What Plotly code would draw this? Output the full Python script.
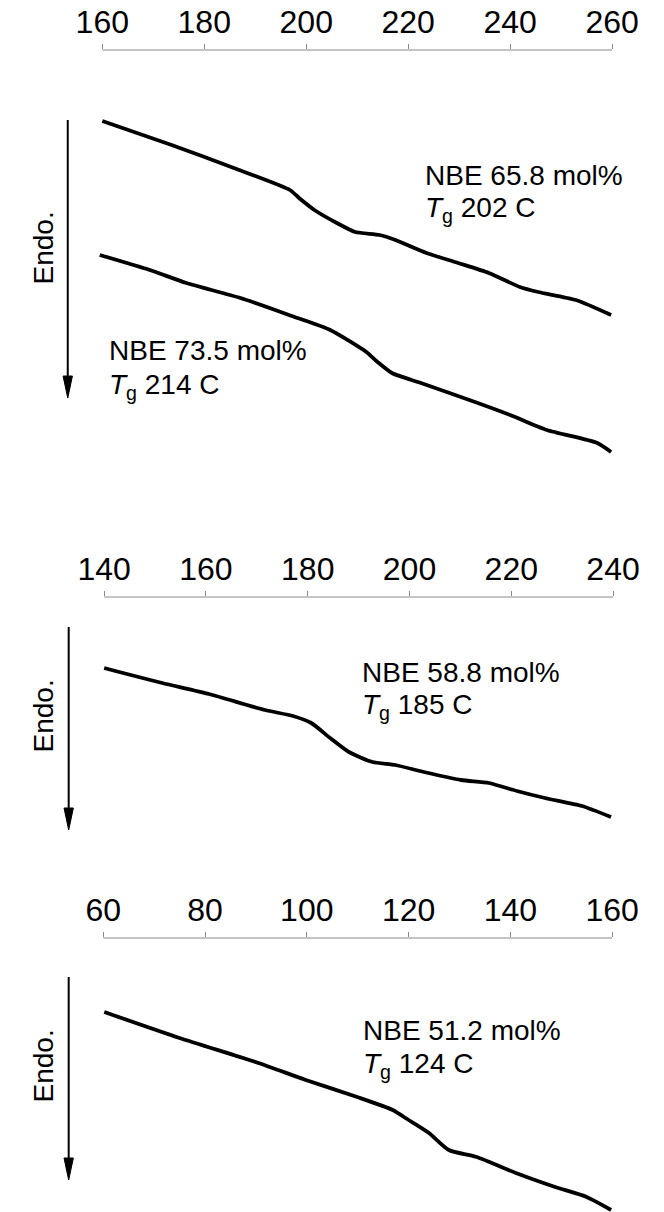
import plotly.graph_objects as go

# DSC traces (heat flow in arbitrary units, endotherm downward)
t_658 = [160.0, 173.6, 185.8, 196.8, 198.6, 201.6, 206.0, 209.6, 214.4, 217.5,
         223.6, 229.8, 235.8, 241.9, 245.5, 252.9, 259.8]
hf_658 = [-0.71, -0.95, -1.18, -1.40, -1.48, -1.60, -1.73, -1.82, -1.85, -1.90,
          -2.03, -2.13, -2.23, -2.37, -2.42, -2.50, -2.65]

t_735 = [159.5, 169.3, 176.5, 187.1, 197.7, 204.7, 211.8, 214.0, 216.8, 222.5,
         233.1, 240.0, 247.2, 257.1, 259.8]
hf_735 = [-2.05, -2.20, -2.33, -2.48, -2.67, -2.80, -3.02, -3.12, -3.23, -3.33,
          -3.52, -3.65, -3.80, -3.93, -4.02]

t_588 = [140.0, 142.2, 151.4, 160.6, 171.6, 177.1, 180.7, 184.4, 188.1, 192.7,
         197.2, 202.8, 210.1, 215.6, 221.1, 226.6, 233.9, 239.6]
hf_588 = [-0.71, -0.74, -0.86, -0.97, -1.13, -1.19, -1.26, -1.41, -1.55, -1.65,
          -1.68, -1.75, -1.83, -1.86, -1.94, -2.01, -2.09, -2.20]

t_512 = [60.2, 75.0, 90.5, 99.8, 109.9, 116.9, 120.0, 124.0, 127.9, 133.4,
         141.1, 148.8, 155.0, 159.8]
hf_512 = [-0.74, -1.00, -1.25, -1.42, -1.59, -1.72, -1.82, -1.95, -2.12, -2.19,
          -2.35, -2.49, -2.59, -2.72]

ticks_1 = [160, 180, 200, 220, 240, 260]
ticks_2 = [140, 160, 180, 200, 220, 240]
ticks_3 = [60, 80, 100, 120, 140, 160]

labels = [
    ("NBE 65.8 mol%", "<i>T</i><sub>g</sub> 202 C"),
    ("NBE 73.5 mol%", "<i>T</i><sub>g</sub> 214 C"),
    ("NBE 58.8 mol%", "<i>T</i><sub>g</sub> 185 C"),
    ("NBE 51.2 mol%", "<i>T</i><sub>g</sub> 124 C"),
]

W, H = 664, 1212
FONT = "Liberation Sans, Arial, sans-serif"


def px(x):
    return x / W


def py(y):
    return 1 - y / H


fig = go.Figure()

line_style = dict(color="black", width=3.8, shape="spline", smoothing=0.6)
fig.add_trace(go.Scatter(x=t_658, y=hf_658, mode="lines", line=line_style,
                         xaxis="x", yaxis="y", showlegend=False))
fig.add_trace(go.Scatter(x=t_735, y=hf_735, mode="lines", line=line_style,
                         xaxis="x", yaxis="y", showlegend=False))
fig.add_trace(go.Scatter(x=t_588, y=hf_588, mode="lines", line=line_style,
                         xaxis="x2", yaxis="y2", showlegend=False))
fig.add_trace(go.Scatter(x=t_512, y=hf_512, mode="lines", line=line_style,
                         xaxis="x3", yaxis="y3", showlegend=False))

# panel geometry in pixels: (left, right, top, bottom), x range, ticks
panels = [
    (80.54, 637.46, 50, 480, [159, 261], ticks_1),
    (82.55, 638.45, 597, 860, [139, 241], ticks_2),
    (81.55, 637.45, 938, 1212, [59, 161], ticks_3),
]

axis_color = "#8a8a8a"
layout = dict(
    width=W, height=H,
    margin=dict(l=0, r=0, t=0, b=0),
    paper_bgcolor="white", plot_bgcolor="white",
    font=dict(family=FONT, color="black"),
)
for i, (l, r, t, b, xr, tv) in enumerate(panels, start=1):
    sx = "" if i == 1 else str(i)
    layout["xaxis" + sx] = dict(
        domain=[px(l), px(r)], range=xr, side="top",
        anchor="y" + sx, showline=False, showgrid=False, zeroline=False,
        ticks="outside", ticklen=5, tickwidth=1, tickcolor=axis_color,
        tickvals=tv, ticktext=[str(v) for v in tv],
        tickfont=dict(size=32, family=FONT, color="black"),
        ticklabelstandoff=-2,
    )
    layout["yaxis" + sx] = dict(
        domain=[py(b), py(t)], range=[-(b - t) / 100, 0],
        anchor="x" + sx, visible=False, showgrid=False, zeroline=False,
    )
fig.update_layout(**layout)

# baseline of each temperature axis between first and last tick
for i, (l, r, t, b, xr, tv) in enumerate(panels, start=1):
    sx = "" if i == 1 else str(i)
    fig.add_shape(type="line", xref="x" + sx, yref="y" + sx + " domain",
                  x0=tv[0], x1=tv[-1], y0=1, y1=1,
                  line=dict(color=axis_color, width=1))

# endothermic direction arrows with "Endo." labels
arrows = [(49, 120, 398, 248), (50, 627, 830, 716), (50, 977, 1180, 1066)]
for ax_x, y_top, y_tip, y_text in arrows:
    head = 22
    half = 5
    fig.add_shape(type="line", xref="paper", yref="paper",
                  x0=px(ax_x), x1=px(ax_x), y0=py(y_top), y1=py(y_tip - head + 2),
                  line=dict(color="black", width=2))
    fig.add_shape(type="path", xref="paper", yref="paper",
                  path=(f"M {px(ax_x - half)} {py(y_tip - head)} "
                        f"L {px(ax_x + half)} {py(y_tip - head)} "
                        f"L {px(ax_x)} {py(y_tip)} Z"),
                  fillcolor="black", line=dict(color="black", width=1))
    fig.add_annotation(xref="paper", yref="paper", x=px(23), y=py(y_text),
                       text="Endo.", textangle=-90, showarrow=False,
                       xanchor="center", yanchor="middle",
                       font=dict(size=28, family=FONT, color="black"))

# sample labels
label_pos = [(429, 176, 210), (91, 350, 386), (362, 672, 706), (363, 1030, 1065)]
for (l1, l2), (lx, y1, y2) in zip(labels, label_pos):
    fig.add_annotation(xref="paper", yref="paper", x=px(lx), y=py(y1),
                       text=l1, showarrow=False, xanchor="left", yanchor="middle",
                       font=dict(size=28, family=FONT, color="black"))
    fig.add_annotation(xref="paper", yref="paper", x=px(lx), y=py(y2),
                       text=l2, showarrow=False, xanchor="left", yanchor="middle",
                       font=dict(size=28, family=FONT, color="black"))

fig.write_html("out.html")
